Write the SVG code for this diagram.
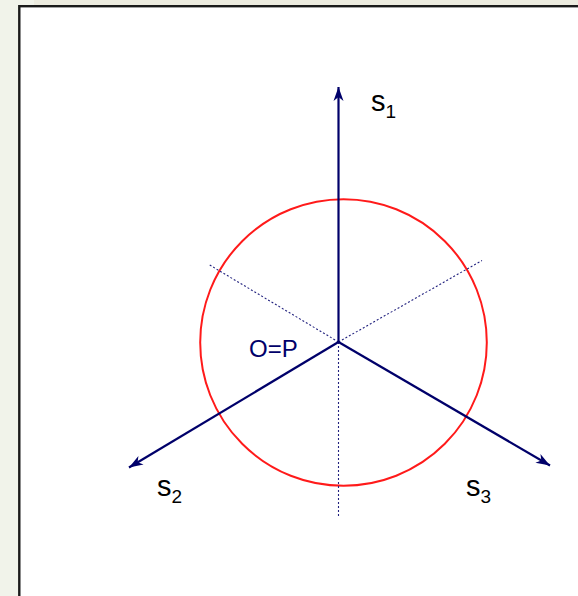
<svg xmlns="http://www.w3.org/2000/svg" width="578" height="596" viewBox="0 0 578 596">
<style>
.axis{stroke:#00006a;stroke-width:2.2;fill:none}
.dot{stroke:#22227f;stroke-width:1.1;stroke-dasharray:2 2;fill:none}
.lbl{font-family:"Liberation Sans",Arial,sans-serif;fill:#000}
</style>
<defs>
<marker id="arr" markerUnits="userSpaceOnUse" markerWidth="20" markerHeight="14" viewBox="-16 -7 18 14" refX="0" refY="0" orient="auto">
<path d="M0,0 L-14,-5 L-10,0 L-14,5 Z" fill="#00006a"/>
</marker>
</defs>
<rect x="0" y="0" width="578" height="596" fill="#f1f3ea"/>
<rect x="34" y="0" width="544" height="6" fill="#ecebdf"/>
<rect x="19.3" y="6.2" width="620" height="620" fill="#ffffff" stroke="#1a1a1a" stroke-width="2.4"/>
<g id="circle">
<circle cx="343.5" cy="342.5" r="143.3" fill="none" stroke="#ff1a1a" stroke-width="2"/>
</g>
<g id="connectors">
<line class="dot" x1="338.5" y1="342" x2="208" y2="264"/>
<line class="dot" x1="338.5" y1="342" x2="482" y2="260.5"/>
<line class="dot" x1="338.5" y1="342" x2="338.5" y2="517"/>
<line class="axis" x1="338.5" y1="342" x2="338.5" y2="87" marker-end="url(#arr)"/>
<line class="axis" x1="338.5" y1="342" x2="129" y2="467.5" marker-end="url(#arr)"/>
<line class="axis" x1="338.5" y1="342" x2="550" y2="465.5" marker-end="url(#arr)"/>
</g>
<g id="origin">
<text class="lbl" x="249" y="357" font-size="24" style="fill:#00006a">O=P</text>
</g>
<g id="s1">
<text class="lbl" x="371" y="111" font-size="29">s<tspan font-size="19" dy="7">1</tspan></text>
</g>
<g id="s2">
<text class="lbl" x="157" y="496" font-size="29">s<tspan font-size="19" dy="7">2</tspan></text>
</g>
<g id="s3">
<text class="lbl" x="466" y="496" font-size="29">s<tspan font-size="19" dy="7">3</tspan></text>
</g>
</svg>
